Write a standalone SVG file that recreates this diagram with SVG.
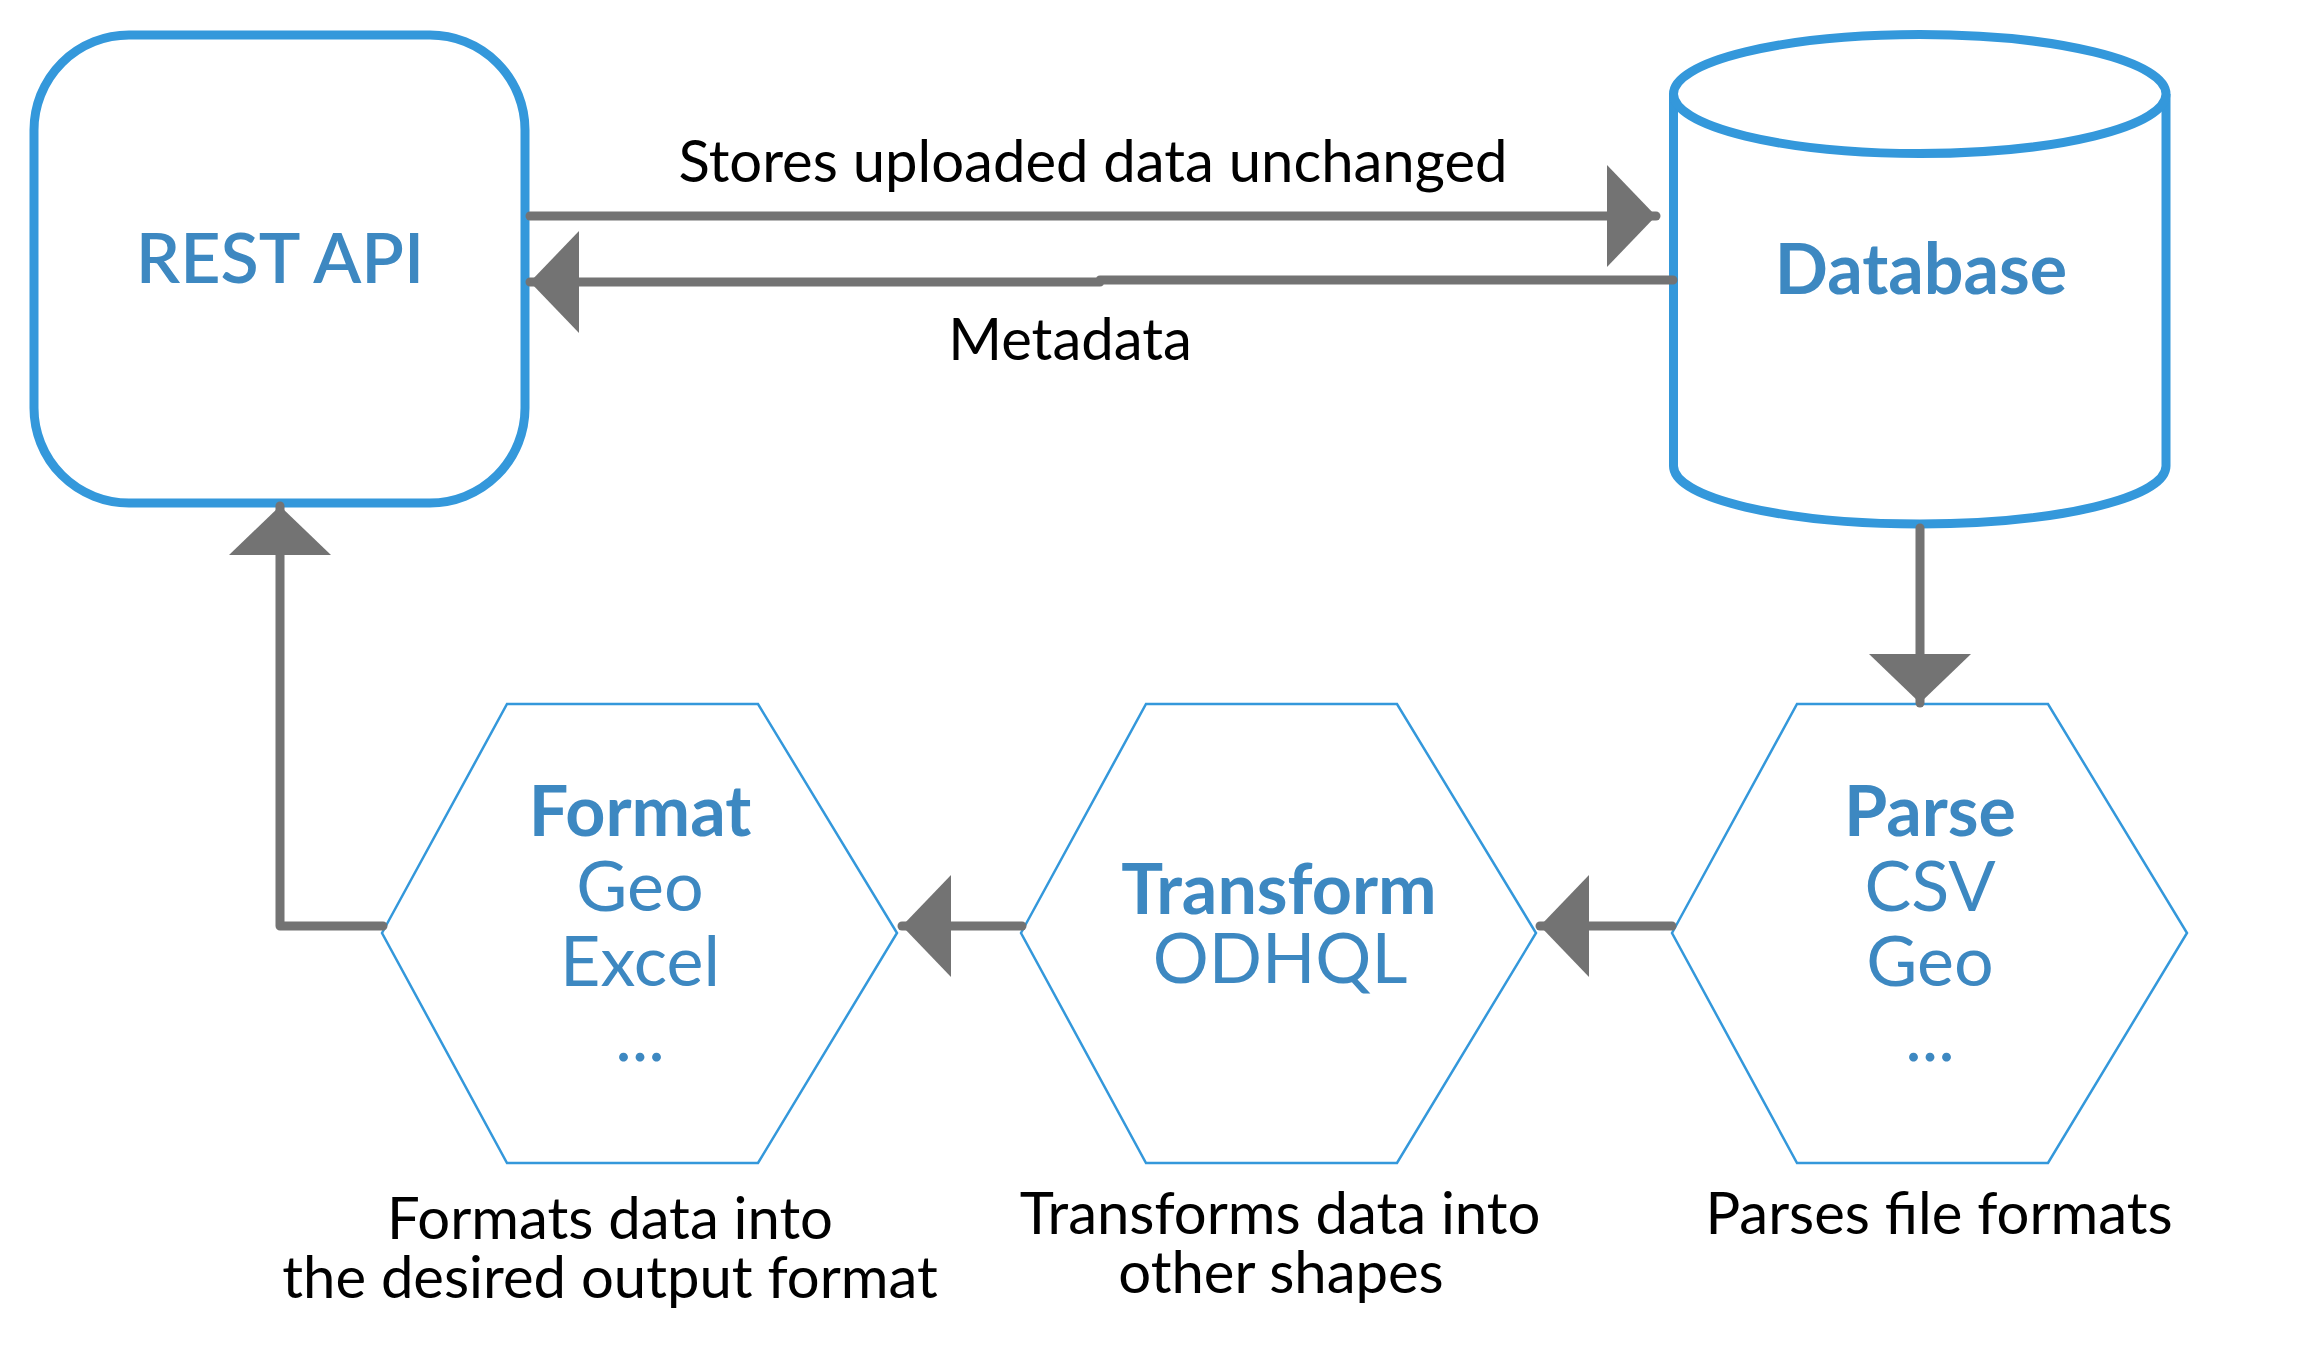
<svg xmlns="http://www.w3.org/2000/svg" width="2317" height="1372" viewBox="0 0 2317 1372">
<style>
.node{fill:#fff;stroke:#3498db;stroke-width:9}
.hex{fill:#fff;stroke:#3498db;stroke-width:2.5}
.title{font-family:Lato,"Liberation Sans",sans-serif;font-size:70px;fill:#3d88c1;text-anchor:middle}
.b{font-weight:bold}
.label{font-family:Lato,"Liberation Sans",sans-serif;font-size:58px;fill:#000;text-anchor:middle}
.conn{fill:none;stroke:#737373;stroke-width:9;stroke-linecap:round;stroke-linejoin:round}
</style>
<defs>
<marker id="arrow" markerUnits="userSpaceOnUse" markerWidth="52" markerHeight="104" refX="49" refY="51" orient="auto">
<path d="M0,0 L49,51 L0,102 Z" fill="#737373"/>
</marker>
</defs>
<rect width="2317" height="1372" fill="#fff"/>
<g id="rest-api">
<rect class="node" x="34" y="35" width="491" height="468" rx="95" ry="95"/>
<text class="title" x="280" y="283" font-weight="600">REST API</text>
</g>
<g id="database">
<path class="node" d="M1673.5,94 A246.25,59.5 0 0 1 2166,94 V466 A246.25,58 0 0 1 1673.5,466 Z"/>
<path class="node" d="M1673.5,94 A246.25,59.5 0 0 0 2166,94"/>
<text class="title b" x="1921" y="294">Database</text>
</g>
<g id="format">
<polygon class="hex" points="382,933 507,704 758,704 897,933 758,1163 507,1163"/>
<text class="title b" x="640" y="836">Format</text>
<text class="title" x="640" y="911">Geo</text>
<text class="title" x="640" y="986">Excel</text>
<text class="title" x="640" y="1061">...</text>
<text class="label" x="610" y="1239">Formats data into</text>
<text class="label" x="610" y="1298">the desired output format</text>
</g>
<g id="transform">
<polygon class="hex" points="1021,933 1146,704 1397,704 1536,933 1397,1163 1146,1163"/>
<text class="title b" x="1279" y="914">Transform</text>
<text class="title" x="1280" y="983">ODHQL</text>
<text class="label" x="1280" y="1234">Transforms data into</text>
<text class="label" x="1281" y="1293">other shapes</text>
</g>
<g id="parse">
<polygon class="hex" points="1672,933 1797,704 2048,704 2187,933 2048,1163 1797,1163"/>
<text class="title b" x="1930" y="836">Parse</text>
<text class="title" x="1930" y="911">CSV</text>
<text class="title" x="1930" y="986">Geo</text>
<text class="title" x="1930" y="1061">...</text>
<text class="label" x="1939" y="1234">Parses file formats</text>
</g>
<g id="connectors">
<path class="conn" d="M530,216 H1656" marker-end="url(#arrow)"/>
<path class="conn" d="M1673,280 H1100 V282 H530" marker-end="url(#arrow)"/>
<path class="conn" d="M1920,528 V703" marker-end="url(#arrow)"/>
<path class="conn" d="M1672,926 H1540" marker-end="url(#arrow)"/>
<path class="conn" d="M1022,926 H902" marker-end="url(#arrow)"/>
<path class="conn" d="M383,926 H280 V506" marker-end="url(#arrow)"/>
<text class="label" x="1093" y="182">Stores uploaded data unchanged</text>
<text class="label" x="1070" y="360">Metadata</text>
</g>
</svg>
